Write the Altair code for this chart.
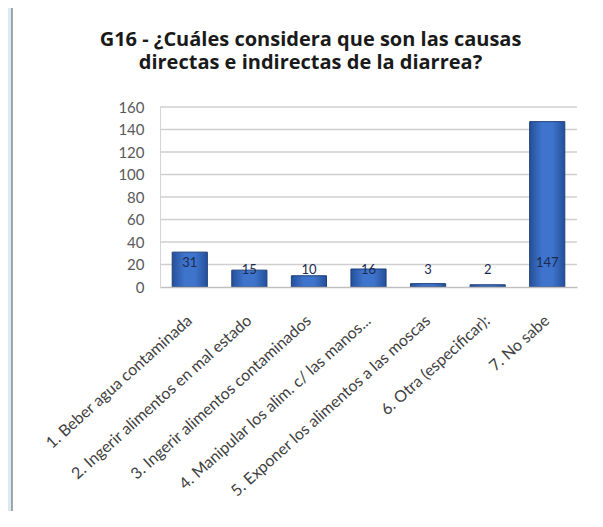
import altair as alt
import pandas as pd

categories = [
    "1. Beber agua contaminada",
    "2. Ingerir alimentos en mal estado",
    "3. Ingerir alimentos contaminados",
    "4. Manipular los alim. c/ las manos...",
    "5. Exponer los alimentos a las moscas",
    "6. Otra (especificar):",
    "7. No sabe",
]
values = [31, 15, 10, 16, 3, 2, 147]
y_ticks = [0, 20, 40, 60, 80, 100, 120, 140, 160]
title_lines = ["G16 - ¿Cuáles considera que son las causas", "directas e indirectas de la diarrea?"]

df = pd.DataFrame({"cat": categories, "val": values})
grid_df = pd.DataFrame({"v": y_ticks[1:]})
panel_df = pd.DataFrame({"a": [0]})

W, H = 417, 180
FONT = "Lato"

yscale = alt.Scale(domain=[0, 160], nice=False)
xscale = alt.Scale(paddingInner=0.41, paddingOuter=0.205)

x_axis = alt.Axis(
    labelAngle=-42, labelAlign="right", labelBaseline="middle",
    labelPadding=31, ticks=False, domainColor="#c0c0c0", domainWidth=1.5,
    labelFont=FONT, labelFontSize=16, labelColor="#404040", labelLimit=400,
    labelOverlap=False, zindex=1, title=None,
)
y_axis = alt.Axis(
    values=y_ticks, grid=False, ticks=False, domainColor="#d4d4d4",
    labelFont=FONT, labelFontSize=15, labelColor="#595959", labelPadding=16,
    labelOverlap=False, zindex=1, title=None,
)

panel = alt.Chart(panel_df).mark_rect(
    fill="white", stroke="#8c8c8c", strokeWidth=1.5
).encode(
    x=alt.value(-148), x2=alt.value(460), y=alt.value(-110), y2=alt.value(420)
)

grid = alt.Chart(grid_df).mark_rule(color="#cfcfcf", strokeWidth=1.5).encode(
    y=alt.Y("v:Q", scale=yscale, axis=y_axis, title=None), x=alt.value(0), x2=alt.value(W)
)

bar_fill = alt.Gradient(
    gradient="linear",
    stops=[
        alt.GradientStop(color="#24509a", offset=0),
        alt.GradientStop(color="#3f74cc", offset=0.35),
        alt.GradientStop(color="#3f74cc", offset=0.65),
        alt.GradientStop(color="#24509a", offset=1),
    ],
    x1=0, x2=1, y1=0, y2=0,
)

bars = alt.Chart(df).mark_bar(fill=bar_fill, stroke="#1d3f7a", strokeWidth=1).encode(
    x=alt.X("cat:N", sort=categories, scale=xscale, axis=x_axis, title=None),
    y=alt.Y("val:Q", scale=yscale, axis=y_axis, title=None),
)

labels = alt.Chart(df).transform_calculate(
    ly="min(max(datum.val - 10, 15), 21)"
).mark_text(font=FONT, fontSize=13, color="#1a2a50", baseline="middle").encode(
    x=alt.X("cat:N", sort=categories, scale=xscale, axis=x_axis, title=None),
    y=alt.Y("ly:Q", scale=yscale, axis=y_axis, title=None),
    text="val:Q",
)

chart = alt.layer(panel, grid, bars, labels).properties(
    width=W, height=H,
    autosize="none",
    padding={"left": 152, "top": 99, "right": 18, "bottom": 224},
    background="#d8eaf3",
    title=alt.TitleParams(
        text=title_lines, font="Open Sans", fontSize=20, fontWeight="bold", color="#1a1a1a",
        anchor="middle", frame="group", dx=-58, dy=77, offset=0, lineHeight=23, zindex=1,
    ),
).configure_view(stroke=None)

chart.save("out.html", embed_options={"renderer": "svg", "actions": False})
